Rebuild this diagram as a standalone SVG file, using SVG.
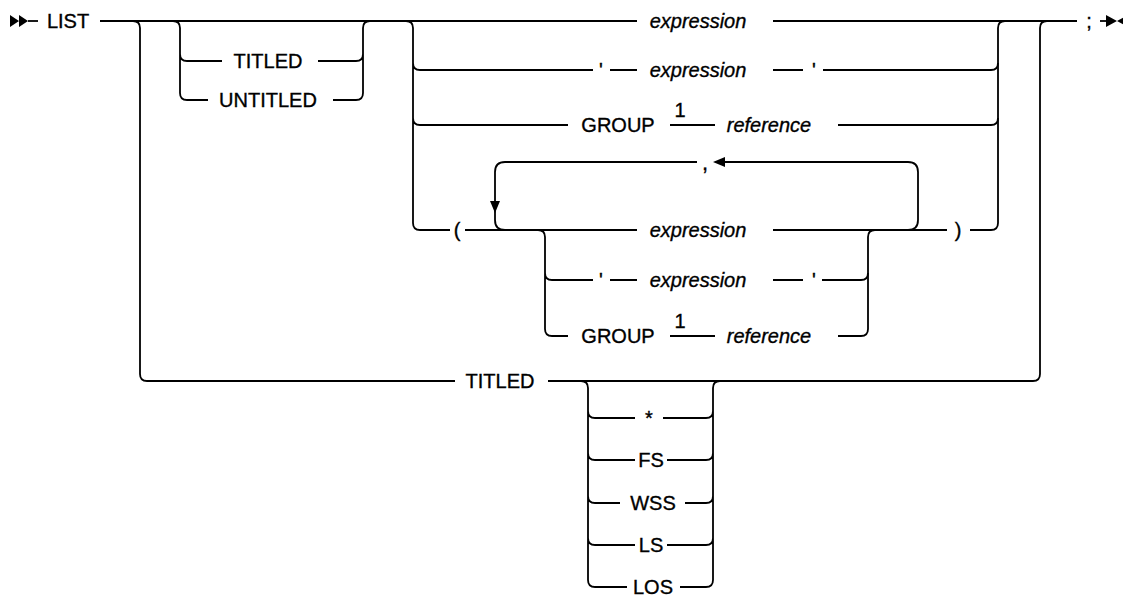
<svg xmlns="http://www.w3.org/2000/svg" width="1123" height="599" viewBox="0 0 1123 599">
<style>
.c{fill:none;stroke:#000;stroke-width:1.8}
.a{fill:#000;stroke:none}
text{font-family:"Liberation Sans",Arial,sans-serif;font-size:20px;fill:#000;stroke:#000;stroke-width:0.35;text-anchor:middle}
.v{font-style:italic}
</style>
<rect width="1123" height="599" fill="#fff"/>
<g id="connectors">
<path class="a" d="M10,15 L19,21 L10,27 Z M19,15 L28,21 L19,27 Z"/>
<path class="c" d="M28,21 H38"/>
<path class="c" d="M100,21 H637 M773,21 H1077"/>
<path class="c" d="M1100,21 H1108"/>
<path class="a" d="M1106,15 L1117,21 L1106,27 Z M1128,15 L1117,21 L1128,27 Z"/>
<!-- outer fork -->
<path class="c" d="M133,21 Q140,21 140,28 V374 Q140,381 147,381 H455 M548,381 H1033 Q1040,381 1040,374 V28 Q1040,21 1047,21"/>
<!-- TITLED/UNTITLED -->
<path class="c" d="M173,21 Q180,21 180,28 V93 Q180,100 187,100 H208 M180,54 Q180,61 187,61 H222"/>
<path class="c" d="M318,61 H356 Q363,61 363,54 M333,100 H356 Q363,100 363,93 V28 Q363,21 370,21"/>
<!-- expression choice -->
<path class="c" d="M406,21 Q413,21 413,28 V223 Q413,230 420,230 H450 M413,63 Q413,70 420,70 H593 M413,118 Q413,125 420,125 H568"/>
<path class="c" d="M610,70 H637 M773,70 H803 M823,70 H991 Q998,70 998,63"/>
<path class="c" d="M670,125 H715 M838,125 H991 Q998,125 998,118"/>
<path class="c" d="M465,230 H637 M773,230 H947 M970,230 H991 Q998,230 998,223 V28 Q998,21 1005,21"/>
<!-- loop -->
<path class="c" d="M908,230 Q918,230 918,220 V172 Q918,162 908,162 H724 M697,162 H505 Q495,162 495,172 V220 Q495,230 505,230"/>
<path class="a" d="M713,162 L725,157 L725,167 Z"/>
<path class="a" d="M495,213 L490,201 L500,201 Z"/>
<!-- inner choice -->
<path class="c" d="M538,230 Q545,230 545,237 V329 Q545,336 552,336 H568 M545,273 Q545,280 552,280 H593"/>
<path class="c" d="M610,280 H637 M773,280 H803 M822,280 H861 Q868,280 868,273"/>
<path class="c" d="M670,336 H715 M838,336 H861 Q868,336 868,329 V237 Q868,230 875,230"/>
<!-- bottom choice -->
<path class="c" d="M581,381 Q588,381 588,388 V580 Q588,587 595,587 H627 M588,411 Q588,418 595,418 H635 M588,453 Q588,460 595,460 H635 M588,496 Q588,503 595,503 H620 M588,538 Q588,545 595,545 H635"/>
<path class="c" d="M663,418 H706 Q713,418 713,411 M667,460 H706 Q713,460 713,453 M685,503 H706 Q713,503 713,496 M667,545 H706 Q713,545 713,538 M680,587 H706 Q713,587 713,580 V388 Q713,381 720,381"/>
</g>
<g id="n-list"><text x="68" y="28">LIST</text></g>
<g id="n-titled1"><text x="268" y="68">TITLED</text></g>
<g id="n-untitled"><text x="268" y="107">UNTITLED</text></g>
<g id="n-expr1"><text class="v" x="698" y="28">expression</text></g>
<g id="n-expr2"><text x="601" y="77">'</text><text class="v" x="698" y="77">expression</text><text x="814" y="77">'</text></g>
<g id="n-group1"><text x="618" y="132">GROUP</text><text x="680" y="117">1</text><text class="v" x="769" y="132">reference</text></g>
<g id="n-comma"><text x="705" y="170" style="font-size:22px">,</text></g>
<g id="n-paren-open"><text x="457" y="237">(</text></g>
<g id="n-expr3"><text class="v" x="698" y="237">expression</text></g>
<g id="n-paren-close"><text x="958" y="237">)</text></g>
<g id="n-expr4"><text x="601" y="287">'</text><text class="v" x="698" y="287">expression</text><text x="814" y="287">'</text></g>
<g id="n-group2"><text x="618" y="343">GROUP</text><text x="680" y="328">1</text><text class="v" x="769" y="343">reference</text></g>
<g id="n-titled2"><text x="500" y="388">TITLED</text></g>
<g id="n-star"><text x="649" y="425">*</text></g>
<g id="n-fs"><text x="651" y="467">FS</text></g>
<g id="n-wss"><text x="653" y="510">WSS</text></g>
<g id="n-ls"><text x="651" y="552">LS</text></g>
<g id="n-los"><text x="653" y="594">LOS</text></g>
<g id="n-semi"><text x="1089" y="28">;</text></g>
</svg>
